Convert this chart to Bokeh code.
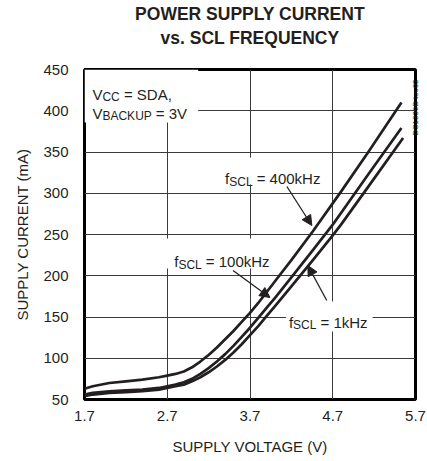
import math
from bokeh.plotting import figure
from bokeh.models import (Range1d, FixedTicker, Label, BoxAnnotation, Arrow, NormalHead,
                          LinearAxis)
from bokeh.embed import file_html
from bokeh.resources import INLINE

# ---- data ----
x_ticks = [1.7, 2.7, 3.7, 4.7, 5.7]
y_ticks = [50, 100, 150, 200, 250, 300, 350, 400, 450]

v_400k = [1.7, 1.8, 2.0, 2.2, 2.4, 2.6, 2.7, 2.8, 2.9, 3.0, 3.1, 3.2, 3.3, 3.4, 3.5, 3.6,
          3.7, 3.8, 3.9, 4.0, 4.1, 4.2, 4.46, 4.8, 5.13, 5.53]
i_400k = [63, 66, 70, 72, 74, 77, 79, 81, 84, 89, 96, 104, 113, 123, 133, 144,
          155, 167, 180, 193, 206, 219, 254, 302, 350, 410]

v_100k = [1.7, 1.8, 2.0, 2.2, 2.4, 2.6, 2.7, 2.8, 2.9, 3.0, 3.1, 3.2, 3.3, 3.4, 3.5, 3.6,
          3.7, 3.8, 3.9, 4.0, 4.2, 4.46, 4.7, 4.8, 5.13, 5.53]
i_100k = [56, 58, 60, 61, 62, 64, 66, 68, 71, 75, 81, 88, 96, 105, 115, 126,
          137, 149, 161, 173, 198, 231, 262, 276, 323, 379]

v_1k = [1.7, 1.8, 2.0, 2.2, 2.4, 2.6, 2.7, 2.8, 2.9, 3.0, 3.1, 3.2, 3.3, 3.4, 3.5, 3.6,
        3.7, 3.8, 3.9, 4.0, 4.2, 4.46, 4.7, 4.8, 5.13, 5.55]
i_1k = [54, 56, 58, 59, 60, 62, 64, 66, 68, 72, 77, 83, 90, 98, 107, 117,
        128, 139, 151, 163, 187, 219, 249, 262, 308, 367]

title_lines = ["POWER SUPPLY CURRENT", "vs. SCL FREQUENCY"]
code_text = "DS1339B toc02"

FONT = "Liberation Sans"
INK = "#231f20"
W_FIG, H_FIG = 427, 461
ML, MR, MT, MB = 84, 11, 69, 62
X0, X1, Y0, Y1 = 1.7, 5.7, 50, 450
XPX = (W_FIG - ML - MR) / (X1 - X0)
YPX = (H_FIG - MT - MB) / (Y1 - Y0)

def dx(px):
    return X0 + (px - ML) / XPX

def dy(py):
    return Y0 + (H_FIG - MB - py) / YPX

p = figure(width=W_FIG, height=H_FIG, output_backend="svg", toolbar_location=None,
           x_range=Range1d(X0, X1), y_range=Range1d(Y0, Y1),
           min_border_left=ML, min_border_right=MR, min_border_top=MT, min_border_bottom=MB)
p.background_fill_color = "white"
p.border_fill_color = "white"
p.outline_line_color = "black"
p.outline_line_width = 3

p.xaxis.ticker = FixedTicker(ticks=x_ticks)
p.yaxis.ticker = FixedTicker(ticks=y_ticks)
p.xgrid.ticker = FixedTicker(ticks=x_ticks)
p.ygrid.ticker = FixedTicker(ticks=y_ticks)
for g in (p.xgrid, p.ygrid):
    g.grid_line_color = "#3a3a3a"
    g.grid_line_width = 1

for ax in (p.xaxis, p.yaxis):
    ax.axis_line_color = None
    ax.major_tick_line_color = None
    ax.minor_tick_line_color = None
    ax.major_tick_out = 0
    ax.major_tick_in = 0
    ax.major_label_text_font = FONT
    ax.major_label_text_font_size = "15px"
    ax.major_label_text_color = INK
    ax.axis_label_text_font = FONT
    ax.axis_label_text_font_size = "15px"
    ax.axis_label_text_font_style = "normal"
    ax.axis_label_text_color = INK

p.xaxis.axis_label = "SUPPLY VOLTAGE (V)"
p.yaxis.axis_label = "SUPPLY CURRENT (mA)"
p.xaxis.major_label_standoff = 11
p.xaxis.axis_label_standoff = 14
p.yaxis.major_label_standoff = 16
p.yaxis.axis_label_standoff = 9
p.xaxis.major_label_overrides = {t: f"{t:.1f}" for t in x_ticks}

def text_axis(label, pos, standoff, size, bold=False, orientation="horizontal"):
    return LinearAxis(ticker=FixedTicker(ticks=[pos]),
                      major_label_overrides={pos: label},
                      major_label_orientation=orientation,
                      axis_line_color=None, major_tick_line_color=None, minor_tick_line_color=None,
                      major_tick_out=0, major_tick_in=0, minor_tick_out=0, minor_tick_in=0,
                      major_label_standoff=int(standoff), major_label_text_font=FONT,
                      major_label_text_font_size=size,
                      major_label_text_font_style="bold" if bold else "normal",
                      major_label_text_color=INK)

# chart title: two one-tick axes stacked above the frame (first added sits nearest)
mid_x = 3.7
p.add_layout(text_axis(title_lines[1], mid_x, 22, "17.5px", bold=True), "above")
p.add_layout(text_axis(title_lines[0], mid_x, 1, "17.5px", bold=True), "above")

# right-hand document code
code_pos = 370
p.add_layout(text_axis(code_text, code_pos, 0, "8px", orientation=math.pi / 2), "right")

# white boxes behind annotations (hide gridlines)
for (l, r, t, b) in [(84, 198, 69, 122), (222, 327, 157, 184), (166, 278, 238, 268), (286, 373, 301, 331)]:
    p.add_layout(BoxAnnotation(left=dx(l), right=dx(r), top=dy(t), bottom=dy(b),
                               fill_color="white", fill_alpha=1, line_alpha=0, level="underlay"))

for v, i in [(v_400k, i_400k), (v_100k, i_100k), (v_1k, i_1k)]:
    p.line(v, i, line_color=INK, line_width=2.7, line_join="round")

# rich text helper (Arial-metric advance widths)
ADV = {"f": 278, "S": 667, "C": 722, "L": 556, " ": 278, "=": 584, "k": 500, "H": 722,
       "z": 500, "V": 667, "D": 722, "A": 667, ",": 278, "B": 667, "K": 667, "U": 722, "P": 667}

def tw(s, size):
    return sum(ADV.get(c, 556) for c in s) * size / 1000.0

def rich(px, base, parts):
    x = px
    for text, size, drop in parts:
        lead = len(text) - len(text.lstrip(" "))
        x += tw(" " * lead, size)
        body = text.lstrip(" ")
        p.add_layout(Label(x=dx(x), y=dy(base + drop), text=body, text_font=FONT,
                           text_font_size=f"{size}px", text_color=INK,
                           text_baseline="alphabetic", text_align="left"))
        x += tw(body, size)

rich(92, 94, [("V", 15, 0), ("CC", 12, 2.5), (" = SDA,", 15, 0)])
rich(92, 113, [("V", 15, 0), ("BACKUP", 12, 2.5), (" = 3V", 15, 0)])
rich(225, 178, [("f", 15, 0), ("SCL", 12, 3.4), (" = 400kHz", 15, 0)])
rich(174, 261, [("f", 15, 0), ("SCL", 12, 3.4), (" = 100kHz", 15, 0)])
rich(289, 321.5, [("f", 15, 0), ("SCL", 12, 3.4), (" = 1kHz", 15, 0)])

for (xs, ys, xe, ye) in [(287, 186, 312, 225), (233, 270, 270, 297), (327, 300, 308, 265)]:
    p.add_layout(Arrow(x_start=dx(xs), y_start=dy(ys), x_end=dx(xe), y_end=dy(ye),
                       line_color=INK, line_width=1.3,
                       end=NormalHead(size=10, fill_color=INK, line_color=INK)))

open("out.html", "w").write(file_html(p, INLINE))
